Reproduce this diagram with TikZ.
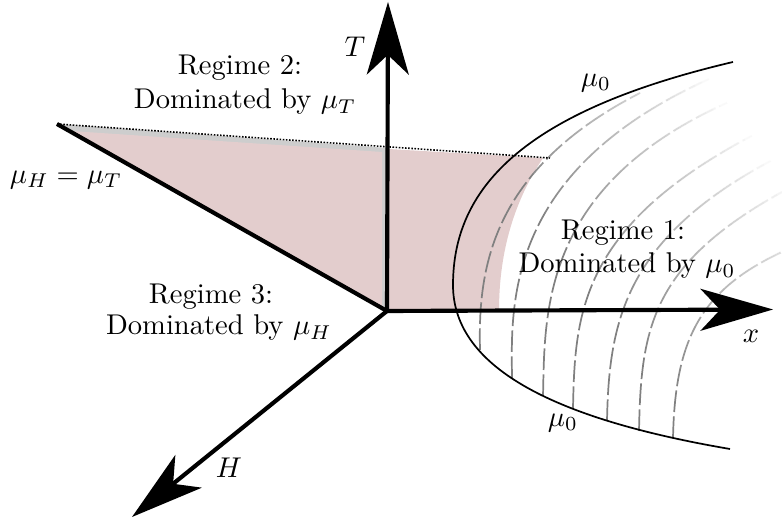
\documentclass[tikz,border=0pt]{standalone}
\usetikzlibrary{arrows.meta}
\definecolor{pinkfill}{HTML}{E3CDCD}
\definecolor{bandgray}{HTML}{CDCDCD}
\definecolor{dashgray}{HTML}{808080}
\tikzset{
  axis/.style={line width=1.45pt, black},
  bigtip/.style={-{Stealth[length=25.5pt,width=14.8pt,inset=7pt,line width=0pt]}},
  boundary/.style={line width=0.6pt, black},
  gdash/.style={line width=0.6pt, dashgray, dash pattern=on 7.6pt off 1.5pt},
  txt/.style={align=center, inner sep=0pt, font=\normalsize},
}
\begin{document}
\begin{tikzpicture}[x=0.35pt,y=-0.35pt]
\useasboundingbox (0,0) rectangle (782,519);
\coordinate (O) at (387,311);
\coordinate (Ttip) at (388,2);
\coordinate (Xtip) at (773,309.5);
\coordinate (Htip) at (132,517);
\coordinate (L) at (57,124);
\coordinate (D) at (550,158);
% filled regime
\fill[bandgray] (L) -- (388,148) -- (O) -- cycle;
\fill[pinkfill] (71,131) -- (382,152) -- (382,308) -- cycle;
\fill[pinkfill] (388,149) -- (543,158) .. controls (515,200) and (499,250) .. (499,311) -- (388,311) -- cycle;
% dashed curves
\draw[gdash] (480,350) .. controls (478,270) and (490,170) .. (640,93);
\draw[gdash] (512,378) .. controls (511,300) and (505,160) .. (735,68);
\draw[gdash] (543,396) .. controls (545,310) and (540,175) .. (753,92);
\draw[gdash] (573,408) .. controls (575,310) and (580,220) .. (773,125);
\draw[gdash] (607,421) .. controls (609,320) and (625,235) .. (782,155);
\draw[gdash] (639,431) .. controls (641,330) and (650,265) .. (782,192);
\draw[gdash] (673,438) .. controls (675,340) and (700,290) .. (782,252);
% whitening toward the upper right, in thin steps, outside the pink area
\begin{scope}
\clip (543,158) .. controls (515,200) and (499,250) .. (499,311) -- (499,519) -- (790,519) -- (790,0) -- (543,0) -- cycle;
\foreach \k in {1,...,30}{
  \pgfmathsetmacro{\tval}{300+(\k-1)*220/29}
  \pgfmathsetmacro{\op}{1/(31-\k)}
  \fill[white, fill opacity=\op]
    ({0.8*\tval+0.6*0},{-0.6*\tval+0.8*0}) --
    ({0.8*\tval+0.6*1000},{-0.6*\tval+0.8*1000}) --
    ({0.8*(\tval+600)+0.6*1000},{-0.6*(\tval+600)+0.8*1000}) --
    ({0.8*(\tval+600)+0.6*0},{-0.6*(\tval+600)+0.8*0}) -- cycle;
}
\end{scope}
% outer curve
\draw[boundary] (733,62) .. controls (520,112) and (453,190) .. (453,285) .. controls (453,370) and (560,420) .. (730,449);
% dotted limit
\draw[line width=0.55pt, black, dash pattern=on 0.55pt off 0.55pt] (L) -- (D);
% axes
\draw[axis] (L) -- (O);
\draw[axis, bigtip] (O) -- (Ttip);
\draw[axis, bigtip] (O) -- (Xtip);
\draw[axis, bigtip] (O) -- (Htip);
% labels
\node[txt] (lT) at (355,47) {$T$};
\node[txt] (lX) at (751,336) {$x$};
\node[txt] (lH) at (229,468) {$H$};
\node[txt] (lU) at (596,83) {$\mu_0$};
\node[txt] (lD) at (563,423) {$\mu_0$};
\node[txt] (lE) at (66,180) {$\mu_H=\mu_T$};
\node[txt] (r2a) at (240,68) {Regime 2:};
\node[txt] (r2b) at (245,102) {Dominated by $\mu_T$};
\node[txt] (r1a) at (623,233) {Regime 1:};
\node[txt] (r1b) at (627,266) {Dominated by $\mu_0$};
\node[txt] (r3a) at (211,297) {Regime 3:};
\node[txt] (r3b) at (219,328) {Dominated by $\mu_H$};
\end{tikzpicture}
\end{document}
